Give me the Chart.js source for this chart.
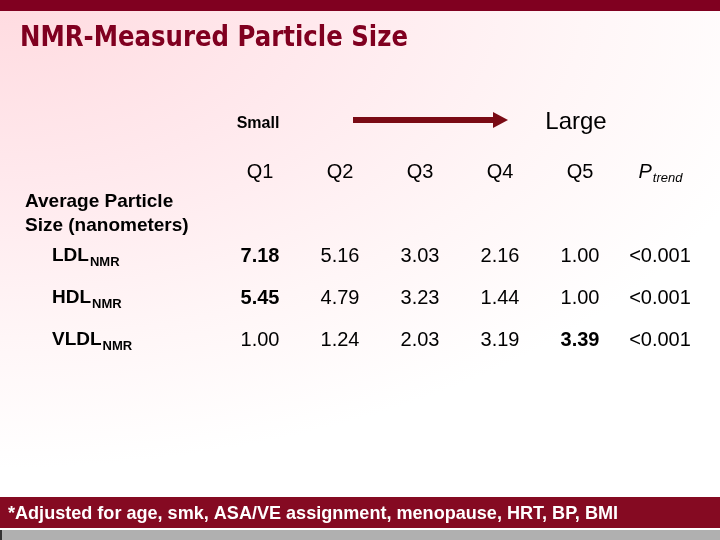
<!DOCTYPE html>
<html>
<head>
<meta charset="utf-8">
<script src="https://cdn.jsdelivr.net/npm/chart.js@4/dist/chart.umd.min.js"></script>
<style>
  html, body { margin: 0; padding: 0; }
  body {
    width: 720px; height: 540px; overflow: hidden; position: relative;
    background: radial-gradient(ellipse 900px 520px at 0px 0px, #ffdbe0 0%, #ffe9ed 35%, #fff6f7 65%, #ffffff 90%);
  }
  #topBar { position: absolute; left: 0; top: 0; width: 720px; height: 11px; background: #800020; }
  #footBar { position: absolute; left: 0; top: 497px; width: 720px; height: 31px; background: #850a22; }
  #grayBar { position: absolute; left: 0; top: 530px; width: 720px; height: 10px; background: #b0b0b0; border-left: 2px solid #333; box-sizing: border-box; }
  #chartBox { position: absolute; left: 0; top: 0; width: 720px; height: 540px; }
</style>
</head>
<body>
<div id="topBar"></div>
<div id="footBar"></div>
<div id="grayBar"></div>
<div id="chartBox"><canvas id="tableChart" width="720" height="540"></canvas></div>
<script>
// data
const titleText = "NMR-Measured Particle Size";
const footnote = "*Adjusted for age, smk, ASA/VE assignment, menopause, HRT, BP, BMI";
const columns = ["Q1", "Q2", "Q3", "Q4", "Q5", "Ptrend"];
const rows = ["header", "group", "LDL", "HDL", "VLDL"];
const groupLabel = ["Average Particle", "Size (nanometers)"];
const rowNames = ["LDL", "HDL", "VLDL"];
const ldlValues = [7.18, 5.16, 3.03, 2.16, 1.00];
const hdlValues = [5.45, 4.79, 3.23, 1.44, 1.00];
const vldlValues = [1.00, 1.24, 2.03, 3.19, 3.39];
const pTrend = ["<0.001", "<0.001", "<0.001"];
const boldCells = [[0], [0], [4]]; // column index of bold values per row

const RED = "#800020";

/* fit a string into a target width by squeezing it sideways */
function fitText(ctx, text, x, y, width) {
  const w = ctx.measureText(text).width;
  ctx.save();
  ctx.translate(x, y);
  ctx.scale(width / w, 1);
  ctx.fillText(text, 0, 0);
  ctx.restore();
}

/* text with a smaller subscript, centred or left aligned */
function subText(ctx, main, sub, x, y, mainFont, subFont, align) {
  ctx.font = mainFont;
  const w1 = ctx.measureText(main).width;
  ctx.font = subFont;
  const w2 = ctx.measureText(sub).width;
  let left = align === "center" ? x - (w1 + w2) / 2 : x;
  ctx.textAlign = "left";
  ctx.font = mainFont;
  ctx.fillText(main, left, y);
  ctx.font = subFont;
  ctx.fillText(sub, left + w1 + 1, y + 6);
}

const tablePlugin = {
  id: "tablePlugin",
  afterDraw(chart) {
    const ctx = chart.ctx;
    const xs = chart.scales.x;
    const ys = chart.scales.y;
    ctx.save();

    // title
    ctx.fillStyle = RED;
    ctx.textBaseline = "alphabetic";
    ctx.textAlign = "left";
    ctx.font = "bold 29px 'DejaVu Sans'";
    fitText(ctx, titleText, 20, 46, 388);

    // footnote
    ctx.fillStyle = "#ffffff";
    ctx.font = "bold 19px 'Liberation Sans', Arial";
    fitText(ctx, footnote, 8, 519, 610);

    // Small -> Large arrow above the quintiles
    const arrowY = ys.top - 31;
    ctx.fillStyle = "#000000";
    ctx.textAlign = "center";
    ctx.font = "bold 16px 'Liberation Sans', Arial";
    ctx.fillText("Small", xs.getPixelForValue(0) - 2, arrowY + 8);
    ctx.font = "24px 'Liberation Sans', Arial";
    ctx.fillText("Large", xs.getPixelForValue(4) - 4, arrowY + 9);
    const ax0 = xs.getPixelForValue(1) + 13;
    const ax1 = xs.getPixelForValue(3) + 8;
    ctx.fillStyle = "#7a0a14";
    ctx.fillRect(ax0, arrowY - 3, ax1 - ax0 - 14, 6);
    ctx.beginPath();
    ctx.moveTo(ax1 - 15, arrowY - 8);
    ctx.lineTo(ax1, arrowY);
    ctx.lineTo(ax1 - 15, arrowY + 8);
    ctx.closePath();
    ctx.fill();

    // header row
    ctx.fillStyle = "#000000";
    ctx.textBaseline = "middle";
    const hy = ys.getPixelForValue(0);
    columns.forEach((c, i) => {
      const x = xs.getPixelForValue(i);
      if (c === "Ptrend") {
        subText(ctx, "P", "trend", x, hy, "italic 20px 'Liberation Sans', Arial",
          "italic 13px 'Liberation Sans', Arial", "center");
      } else {
        ctx.textAlign = "center";
        ctx.font = "20px 'Liberation Sans', Arial";
        ctx.fillText(c, x, hy);
      }
    });

    // group label
    const gy = ys.getPixelForValue(1);
    ctx.textAlign = "left";
    ctx.font = "bold 19px 'Liberation Sans', Arial";
    ctx.fillText(groupLabel[0], 25, gy - 12);
    ctx.fillText(groupLabel[1], 25, gy + 12);

    // data rows
    const series = [ldlValues, hdlValues, vldlValues];
    series.forEach((vals, r) => {
      const y = ys.getPixelForValue(r + 2);
      subText(ctx, rowNames[r], "NMR", 52, y, "bold 19px 'Liberation Sans', Arial",
        "bold 13px 'Liberation Sans', Arial", "left");
      ctx.textAlign = "center";
      vals.forEach((v, i) => {
        const bold = boldCells[r].includes(i);
        ctx.font = (bold ? "bold " : "") + "20px 'Liberation Sans', Arial";
        ctx.fillText(v.toFixed(2), xs.getPixelForValue(i), y);
      });
      ctx.font = "20px 'Liberation Sans', Arial";
      ctx.fillText(pTrend[r], xs.getPixelForValue(5), y);
    });

    ctx.restore();
  },
};

new Chart(document.getElementById("tableChart"), {
  type: "bar",
  data: { labels: columns, datasets: [] },
  options: {
    responsive: false,
    animation: false,
    layout: { padding: { left: 220, right: 20, top: 151, bottom: 179 } },
    plugins: { legend: { display: false }, tooltip: { enabled: false } },
    scales: {
      x: { type: "category", labels: columns, offset: true, display: false },
      y: { type: "category", labels: rows, offset: true, display: false },
    },
  },
  plugins: [tablePlugin],
});
</script>
</body>
</html>
